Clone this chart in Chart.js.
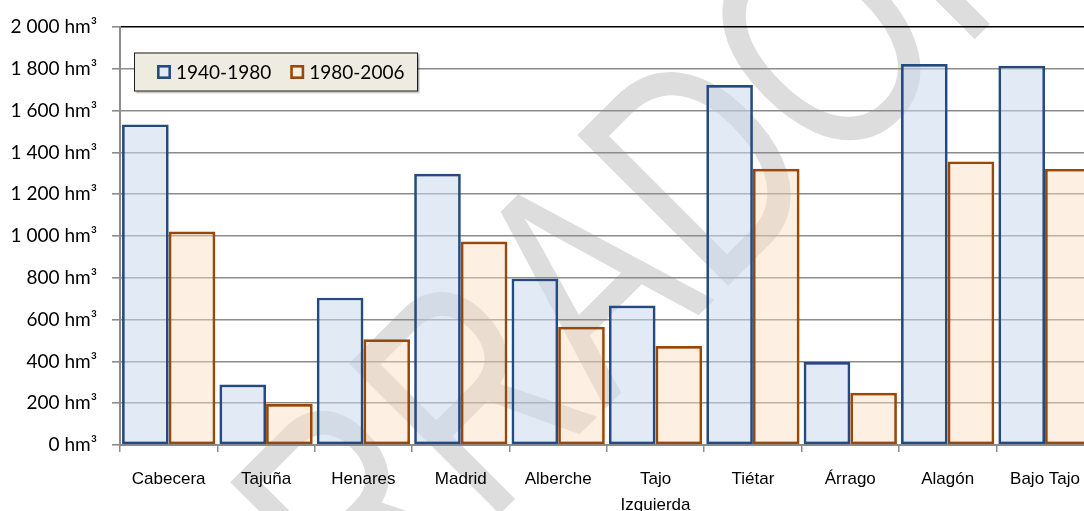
<!DOCTYPE html>
<html lang="es">
<head>
<meta charset="utf-8">
<title>Aportaciones medias por subcuenca</title>
<script src="https://cdn.jsdelivr.net/npm/chart.js@4/dist/chart.umd.min.js"></script>
<style>
  html, body { margin: 0; padding: 0; background: #ffffff; overflow: hidden; }
  #wrap { width: 1094px; height: 511px; }
</style>
</head>
<body>
<div id="wrap"><canvas id="chart" width="1094" height="511"></canvas></div>
<script>
// Subcuencas del Tajo
const categories = ['Cabecera', 'Tajuña', 'Henares', 'Madrid', 'Alberche', ['Tajo', 'Izquierda'], 'Tiétar', 'Árrago', 'Alagón', 'Bajo Tajo'];

// Aportación media anual (hm³) en cada periodo
const seriesNames = ['1940-1980', '1980-2006'];
const values1940to1980 = [1534, 289, 705, 1298, 796, 667, 1722, 397, 1823, 1815];
const values1980to2006 = [1021, 196, 506, 974, 566, 474, 1322, 250, 1357, 1321];

// Etiquetas del eje vertical
const yTickLabels = ['0 hm³', '200 hm³', '400 hm³', '600 hm³', '800 hm³', '1 000 hm³', '1 200 hm³', '1 400 hm³', '1 600 hm³', '1 800 hm³', '2 000 hm³'];

const stampText = 'BORRADOR';

const GRID = '#8c8c8c';

// Sello diagonal de borrador (letras estrechas), dibujado bajo la rejilla y las barras
const draftStamp = {
  id: 'draftStamp',
  beforeDraw(chart) {
    const ctx = chart.ctx;
    ctx.save();
    ctx.translate(130, 884);
    ctx.rotate(-Math.PI / 4);
    ctx.scale(0.75, 1);
    ctx.font = '310px "Liberation Sans", Arial, sans-serif';
    ctx.textAlign = 'left';
    ctx.textBaseline = 'alphabetic';
    ctx.fillStyle = '#dddddd';
    ctx.fillText(stampText, 0, 0);
    ctx.restore();
  }
};

// Leyenda en recuadro dentro del área de trazado
const boxedLegend = {
  id: 'boxedLegend',
  afterDraw(chart) {
    const { ctx, chartArea } = chart;
    const x = chartArea.left + 14, y = chartArea.top + 25.5, w = 284, h = 39;
    ctx.save();
    ctx.shadowColor = 'rgba(0,0,0,0.35)';
    ctx.shadowOffsetX = 1.5;
    ctx.shadowOffsetY = 1.5;
    ctx.shadowBlur = 1.5;
    ctx.fillStyle = '#eeece1';
    ctx.fillRect(x, y, w, h);
    ctx.shadowColor = 'transparent';
    ctx.strokeStyle = '#1e1e1e';
    ctx.lineWidth = 1;
    ctx.strokeRect(x + 0.5, y + 0.5, w - 1, h - 1);

    ctx.font = '19px Lato, "Open Sans", sans-serif';
    ctx.textBaseline = 'middle';
    ctx.textAlign = 'left';
    const cy = y + h / 2;
    let cur = x + 23;
    chart.data.datasets.forEach(ds => {
      ctx.fillStyle = ds.legendFill;
      ctx.fillRect(cur, cy - 7, 14, 14);
      ctx.strokeStyle = ds.borderColor;
      ctx.lineWidth = 2.6;
      ctx.strokeRect(cur + 1.3, cy - 5.7, 11.4, 11.4);
      ctx.fillStyle = '#000000';
      ctx.fillText(ds.label, cur + 19, cy + 0.5);
      cur += 19 + ctx.measureText(ds.label).width + 19;
    });
    ctx.restore();
  }
};

new Chart(document.getElementById('chart'), {
  type: 'bar',
  data: {
    labels: categories,
    datasets: [
      {
        label: seriesNames[0],
        data: values1940to1980,
        backgroundColor: 'rgba(200,216,236,0.55)',
        legendFill: '#e2eaf4',
        borderColor: '#254a7f',
        borderWidth: 2.7,
        borderSkipped: false
      },
      {
        label: seriesNames[1],
        data: values1980to2006,
        backgroundColor: 'rgba(250,220,190,0.45)',
        legendFill: '#fcefe3',
        borderColor: '#984807',
        borderWidth: 2.7,
        borderSkipped: false
      }
    ]
  },
  options: {
    responsive: false,
    animation: false,
    events: [],
    barPercentage: 1,
    categoryPercentage: 0.958,
    layout: { padding: { top: 27, right: 0, bottom: 0, left: 0 } },
    plugins: {
      legend: { display: false },
      tooltip: { enabled: false }
    },
    scales: {
      x: {
        offset: true,
        grid: {
          offset: true,
          drawOnChartArea: false,
          drawTicks: true,
          tickLength: 7,
          color: GRID,
          lineWidth: 1.5
        },
        border: { color: GRID, width: 2 },
        ticks: {
          color: '#000000',
          font: { family: '"Liberation Sans", Arial, sans-serif', size: 17, lineHeight: 1.55 },
          padding: 14,
          maxRotation: 0,
          autoSkip: false
        },
        afterFit(scale) { scale.height = 66; }
      },
      y: {
        min: 0,
        max: 2000,
        grid: {
          color: ctx => (ctx.tick && ctx.tick.value === 2000 ? '#000000' : GRID),
          tickColor: GRID,
          lineWidth: 1.6,
          tickLength: 8
        },
        border: { color: GRID, width: 2 },
        ticks: {
          stepSize: 200,
          color: '#000000',
          font: { family: 'Lato, "Open Sans", sans-serif', size: 19 },
          padding: 15,
          callback: (value, index) => yTickLabels[index]
        },
        afterFit(scale) { scale.width = 120; }
      }
    }
  },
  plugins: [draftStamp, boxedLegend]
});
</script>
</body>
</html>
